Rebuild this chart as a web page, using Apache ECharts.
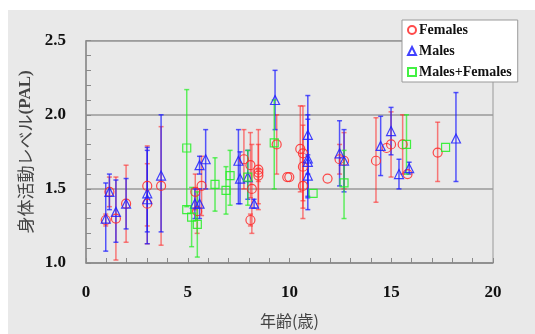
<!DOCTYPE html>
<html>
<head>
<meta charset="utf-8">
<script src="https://cdn.jsdelivr.net/npm/echarts@6/dist/echarts.min.js"></script>
<style>
  html, body { margin: 0; padding: 0; background: #fff; }
  #wrap { position: relative; width: 535px; height: 334px; }
  #bg { position: absolute; left: 8px; top: 10px; right: 0; bottom: 0; background: #e9e9e9; }
  #chart { position: absolute; left: 0; top: 0; width: 535px; height: 334px; }
</style>
</head>
<body>
<div id="wrap">
  <div id="bg"></div>
  <div id="chart"></div>
</div>
<script>
// Females (red circles): age, PAL, error bar low/high (null = no bar)
const femaleAge  = [0.97, 1.15, 1.47, 1.97, 3.01, 3.01, 3.69, 5.37, 5.46, 5.68, 7.76, 8.08, 8.15, 8.08, 8.47, 8.47, 8.47, 9.37, 9.89, 9.99, 10.53, 10.66, 10.66, 10.66, 11.87, 12.46, 12.68, 14.25, 14.77, 14.99, 15.56, 15.8, 17.28];
const femalePal  = [1.29, 1.48, 1.30, 1.40, 1.52, 1.40, 1.52, 1.48, 1.35, 1.52, 1.70, 1.66, 1.50, 1.29, 1.63, 1.61, 1.59, 1.80, 1.58, 1.58, 1.77, 1.74, 1.65, 1.52, 1.57, 1.70, 1.69, 1.69, 1.776, 1.80, 1.80, 1.60, 1.745];
const femaleLow  = [1.25, 1.38, 1.02, 1.14, 1.25, 1.13, 1.12, 1.36, 1.20, 1.32, 1.50, 1.44, 1.20, 1.25, 1.36, 1.40, 1.55, 1.60, null, null, 1.48, 1.42, 1.37, 1.30, null, 1.60, 1.50, 1.41, null, 1.58, 1.60, null, 1.55];
const femaleHigh = [1.33, 1.58, 1.58, 1.66, 1.79, 1.67, 1.92, 1.60, 1.50, 1.72, 1.90, 1.88, 1.80, 1.33, 1.90, 1.80, 1.63, 2.00, null, null, 2.06, 2.06, 1.93, 1.74, null, 1.80, 1.88, 1.98, null, 2.02, 2.00, null, 1.95];

// Males (blue triangles)
const maleAge  = [0.97, 1.15, 1.47, 1.97, 3.01, 3.01, 3.69, 5.35, 5.58, 5.58, 5.88, 7.49, 7.57, 7.95, 8.26, 9.29, 10.9, 10.9, 10.9, 10.9, 12.46, 12.68, 14.48, 14.99, 15.38, 15.88, 18.18];
const malePal  = [1.30, 1.48, 1.345, 1.40, 1.47, 1.43, 1.59, 1.40, 1.40, 1.66, 1.70, 1.69, 1.57, 1.58, 1.40, 2.10, 1.865, 1.705, 1.683, 1.59, 1.74, 1.69, 1.79, 1.89, 1.60, 1.64, 1.84];
const maleLow  = [1.08, 1.36, 1.14, 1.23, 1.21, 1.13, 1.21, 1.30, 1.30, 1.60, 1.50, 1.40, 1.40, 1.43, 1.37, 1.90, 1.60, 1.44, 1.36, 1.45, 1.52, 1.48, 1.59, 1.73, 1.50, 1.60, 1.55];
const maleHigh = [1.54, 1.60, 1.56, 1.57, 1.76, 1.78, 2.00, 1.50, 1.50, 1.72, 1.90, 1.90, 1.75, 1.76, 1.43, 2.30, 2.13, 1.97, 2.00, 1.73, 1.96, 1.90, 1.99, 2.05, 1.70, 1.68, 2.15];

// Males+Females (green squares)
const bothAge  = [4.95, 4.95, 5.19, 5.47, 6.34, 6.88, 7.08, 7.95, 9.25, 11.16, 12.68, 15.75, 17.67];
const bothPal  = [1.776, 1.36, 1.31, 1.26, 1.53, 1.49, 1.59, 1.58, 1.81, 1.47, 1.54, 1.80, 1.78];
const bothLow  = [1.38, null, 1.11, 1.04, 1.35, 1.33, 1.39, 1.39, 1.50, null, 1.30, 1.60, null];
const bothHigh = [2.17, null, 1.51, 1.48, 1.71, 1.65, 1.76, 1.76, 2.10, null, 1.76, 2.00, null];

const xTicks = [0, 5, 10, 15, 20];
const yTicks = [1.0, 1.5, 2.0, 2.5];

const RED = '#ff2a2a';
const BLUE = '#2020ff';
const GREEN = '#22ee22';

function points(age, pal) {
  return age.map((a, i) => [a, pal[i]]);
}

function bars(age, low, high) {
  return age.map((a, i) => (low[i] == null ? null : [a, low[i], high[i]])).filter(Boolean);
}

function errorItem(color, alpha) {
  return (params, api) => {
    const x = api.value(0);
    const top = api.coord([x, api.value(2)]);
    const bot = api.coord([x, api.value(1)]);
    const w = 2.5;
    const style = { stroke: color, lineWidth: 1.5, opacity: alpha };
    return {
      type: 'group',
      children: [
        { type: 'line', shape: { x1: top[0], y1: top[1], x2: bot[0], y2: bot[1] }, style },
        { type: 'line', shape: { x1: top[0] - w, y1: top[1], x2: top[0] + w, y2: top[1] }, style },
        { type: 'line', shape: { x1: bot[0] - w, y1: bot[1], x2: bot[0] + w, y2: bot[1] }, style },
      ],
    };
  };
}

function errorSeries(name, color, alpha, data) {
  return {
    name: name,
    type: 'custom',
    renderItem: errorItem(color, alpha),
    data: data,
    encode: { x: 0, y: [1, 2] },
    silent: true,
    z: 2,
  };
}

function markerSeries(name, symbol, color) {
  return {
    name: name,
    type: 'scatter',
    symbol: symbol,
    symbolSize: 9,
    itemStyle: {
      color: 'rgba(0,0,0,0)',
      borderColor: color,
      borderWidth: 1.2,
      opacity: 0.85,
    },
    z: 3,
  };
}

const SERIF = "'Liberation Serif', 'DejaVu Serif', serif";

const chart = echarts.init(document.getElementById('chart'), null, { renderer: 'canvas' });

const female = markerSeries('Females', 'circle', RED);
female.data = points(femaleAge, femalePal);
const male = markerSeries('Males', 'triangle', BLUE);
male.data = points(maleAge, malePal);
const both = markerSeries('Males+Females', 'rect', GREEN);
both.data = points(bothAge, bothPal);
both.symbolSize = 8;

const axisGray = '#8a8a8a';

chart.setOption({
  animation: false,
  grid: {
    left: 86,
    right: 42,
    top: 40.7,
    bottom: 68.3,
    show: true,
    borderColor: '#999',
    borderWidth: 1,
    backgroundColor: 'transparent',
  },
  legend: {
    data: ['Females', 'Males', 'Males+Females'],
    orient: 'vertical',
    left: 402,
    top: 20,
    width: 118,
    padding: [3, 6, 3, 5],
    itemGap: 7,
    itemWidth: 8,
    itemHeight: 8,
    backgroundColor: '#fff',
    borderColor: '#999',
    borderWidth: 1,
    borderRadius: 0,
    textStyle: {
      fontFamily: SERIF,
      fontWeight: 'bold',
      fontSize: 14,
      color: '#111',
      padding: [0, 0, 0, -2],
    },
  },
  xAxis: {
    type: 'value',
    min: xTicks[0],
    max: xTicks[xTicks.length - 1],
    interval: 5,
    name: '年齢(歳)',
    nameLocation: 'middle',
    nameGap: 50,
    nameTextStyle: {
      fontFamily: "'Noto Sans CJK JP'",
      fontSize: 16,
      color: '#444',
    },
    axisLine: { lineStyle: { color: axisGray, width: 1.5 } },
    axisTick: { show: true, inside: true, length: 5, lineStyle: { color: axisGray } },
    minorTick: { show: true, splitNumber: 5, length: 5, lineStyle: { color: axisGray } },
    splitLine: { show: false },
    axisLabel: {
      margin: 21,
      fontFamily: SERIF,
      fontWeight: 'bold',
      fontSize: 17,
      color: '#111',
    },
  },
  yAxis: {
    type: 'value',
    min: yTicks[0],
    max: yTicks[yTicks.length - 1],
    interval: 0.5,
    name: '身体活動レベル{b|(PAL)}',
    nameLocation: 'middle',
    nameGap: 52,
    nameTextStyle: {
      fontFamily: "'Noto Sans CJK JP'",
      fontSize: 17,
      color: '#444',
      rich: {
        b: { fontFamily: SERIF, fontWeight: 'bold', fontSize: 17, color: '#444' },
      },
    },
    axisLine: { show: true, lineStyle: { color: axisGray, width: 1.5 } },
    axisTick: { show: true, inside: true, length: 5, lineStyle: { color: axisGray } },
    minorTick: { show: true, splitNumber: 5, length: 5, lineStyle: { color: axisGray } },
    splitLine: { show: true, lineStyle: { color: '#999', width: 1.5 } },
    axisLabel: {
      margin: 20,
      fontFamily: SERIF,
      fontWeight: 'bold',
      fontSize: 17,
      color: '#111',
      formatter: (v) => v.toFixed(1),
    },
  },
  series: [
    errorSeries('err-f', RED, 0.6, bars(femaleAge, femaleLow, femaleHigh)),
    errorSeries('err-m', BLUE, 0.75, bars(maleAge, maleLow, maleHigh)),
    errorSeries('err-b', GREEN, 0.7, bars(bothAge, bothLow, bothHigh)),
    female,
    male,
    both,
  ],
});
</script>
</body>
</html>
